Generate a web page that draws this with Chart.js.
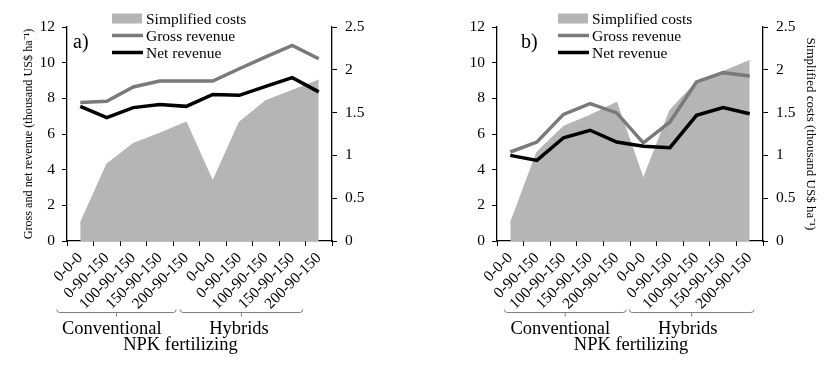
<!DOCTYPE html>
<html lang="en">
<head>
<meta charset="UTF-8" />
<title>Gross revenue, net revenue and simplified costs by NPK fertilizing</title>
<style>
  body { margin: 0; background: #fff; }
  .wrap { position: relative; width: 834px; height: 365px; }
  .wrap canvas { position: absolute; top: 0; }
  #chart-a { left: 0; }
  #chart-b { left: 417px; }
</style>
</head>
<body>
<div class="wrap">
  <canvas id="chart-a" width="417" height="365"></canvas>
  <canvas id="chart-b" width="417" height="365"></canvas>
</div>
<script src="https://cdn.jsdelivr.net/npm/chart.js@4.4.0/dist/chart.umd.min.js"></script>
<script>
  // NPK doses, five per cultivar group
  const doses = ['0-0-0', '0-90-150', '100-90-150', '150-90-150', '200-90-150',
                 '0-0-0', '0-90-150', '100-90-150', '150-90-150', '200-90-150'];
  const groups = ['Conventional', 'Hybrids'];
  const groupTitle = 'NPK fertilizing';
  const seriesNames = ['Simplified costs', 'Gross revenue', 'Net revenue'];

  // left axis ticks (thousand US$/ha) and right axis ticks
  const revenueTicks = [0, 2, 4, 6, 8, 10, 12];
  const costTicks = [0, 0.5, 1, 1.5, 2, 2.5];

  // panel a)
  const grossA = [7.76, 7.83, 8.64, 8.97, 8.97, 8.97, 9.66, 10.32, 10.97, 10.22];
  const netA = [7.55, 6.92, 7.48, 7.66, 7.55, 8.22, 8.17, 8.67, 9.16, 8.36];
  const costsA = [0.21, 0.90, 1.14, 1.26, 1.39, 0.70, 1.39, 1.64, 1.76, 1.88];

  // panel b)
  const grossB = [4.99, 5.55, 7.10, 7.70, 7.18, 5.50, 6.67, 8.92, 9.44, 9.25];
  const netB = [4.80, 4.52, 5.79, 6.21, 5.55, 5.31, 5.23, 7.05, 7.48, 7.14];
  const costsB = [0.21, 1.04, 1.34, 1.47, 1.62, 0.73, 1.53, 1.86, 1.98, 2.11];

  const SERIF = '"Liberation Serif", "Times New Roman", serif';
  Chart.defaults.font.family = SERIF;
  Chart.defaults.color = '#000';

  // panel letter, legend, group brackets and the bottom title
  const decor = {
    id: 'decor',
    afterDraw(chart) {
      const o = chart.options.plugins.decor;
      const { ctx, chartArea } = chart;
      const xs = chart.scales.x;
      ctx.save();
      ctx.fillStyle = '#000';
      ctx.textBaseline = 'middle';

      ctx.font = '20px ' + SERIF;
      ctx.textAlign = 'left';
      ctx.fillText(o.letter, chartArea.left + o.letterDx, chartArea.top + 16);

      // legend
      ctx.font = '15.5px ' + SERIF;
      const lx = chartArea.left + o.legendDx;
      chart.data.datasets.forEach((ds, i) => {
        const y = chartArea.top - 8.5 + i * 17;
        if (ds.fill) {
          ctx.fillStyle = ds.backgroundColor;
          ctx.fillRect(lx, y - 5, 30, 10);
        } else {
          ctx.strokeStyle = ds.borderColor;
          ctx.lineWidth = ds.borderWidth;
          ctx.beginPath();
          ctx.moveTo(lx, y);
          ctx.lineTo(lx + 31, y);
          ctx.stroke();
        }
        ctx.fillStyle = '#000';
        ctx.fillText(ds.label, lx + 34, y + 1);
      });

      // brackets under the tick labels
      const by = chartArea.bottom + 71.5;
      ctx.strokeStyle = '#7f7f7f';
      ctx.lineWidth = 1;
      o.brackets.forEach(b => {
        const x0 = xs.getPixelForValue(b[0]);
        const x1 = xs.getPixelForValue(b[1]);
        const mid = (x0 + x1) / 2;
        ctx.beginPath();
        ctx.moveTo(x0, by - 3);
        ctx.quadraticCurveTo(x0, by, x0 + 3, by);
        ctx.lineTo(x1 - 3, by);
        ctx.quadraticCurveTo(x1, by, x1, by - 3);
        ctx.moveTo(mid, by);
        ctx.lineTo(mid, by + 4);
        ctx.stroke();
      });

      ctx.fillStyle = '#000';
      ctx.textAlign = 'center';
      ctx.font = '18.5px ' + SERIF;
      groups.forEach((g, i) => {
        ctx.fillText(g, xs.getPixelForValue(o.groupX[i]), chartArea.bottom + 88);
      });
      ctx.fillText(groupTitle, xs.getPixelForValue(o.titleX), chartArea.bottom + 104);
      ctx.restore();
    }
  };

  function makeChart(id, gross, net, costs, panel) {
    const tickFont = { size: 15.5, family: SERIF };
    return new Chart(document.getElementById(id), {
      type: 'line',
      data: {
        labels: doses,
        datasets: [
          {
            label: seriesNames[0], data: costs, yAxisID: 'y2', fill: 'origin',
            backgroundColor: '#b5b5b5', borderColor: '#b5b5b5', borderWidth: 1,
            pointRadius: 0, tension: 0, order: 2
          },
          {
            label: seriesNames[1], data: gross, yAxisID: 'y', fill: false,
            borderColor: '#7a7a7a', borderWidth: 3.5, pointRadius: 0, tension: 0, order: 1
          },
          {
            label: seriesNames[2], data: net, yAxisID: 'y', fill: false,
            borderColor: '#000', borderWidth: 3.5, pointRadius: 0, tension: 0, order: 0
          }
        ]
      },
      options: {
        responsive: false,
        animation: false,
        devicePixelRatio: 1,
        layout: { padding: { top: 27, left: 0, right: 0, bottom: 0 } },
        plugins: {
          legend: { display: false },
          tooltip: { enabled: false },
          decor: panel
        },
        scales: {
          x: {
            offset: true,
            grid: { offset: true, drawOnChartArea: false, tickLength: 5, color: '#000' },
            border: { color: '#000', width: 1.3 },
            ticks: { font: tickFont, color: '#000', minRotation: 45, maxRotation: 45, autoSkip: false, padding: 3 },
            afterFit: s => { s.height = 124; }
          },
          y: {
            position: 'left',
            min: revenueTicks[0],
            max: revenueTicks[revenueTicks.length - 1],
            afterBuildTicks: s => { s.ticks = revenueTicks.map(v => ({ value: v })); },
            grid: { drawOnChartArea: false, tickLength: 5, color: '#000' },
            border: { color: '#000', width: 1.3 },
            ticks: { font: tickFont, color: '#000', padding: 7, callback: v => String(v) },
            title: {
              display: panel.leftTitle, text: 'Gross and net revenue (thousand US$ ha\u207B\u00B9)',
              font: { size: 12.2, family: SERIF }, color: '#000', padding: { top: 21 }
            },
            afterFit: s => { s.width = panel.leftW; }
          },
          y2: {
            position: 'right',
            min: costTicks[0],
            max: costTicks[costTicks.length - 1],
            afterBuildTicks: s => { s.ticks = costTicks.map(v => ({ value: v })); },
            grid: { drawOnChartArea: false, tickLength: 5, color: '#000' },
            border: { color: '#000', width: 1.3 },
            ticks: { font: tickFont, color: '#000', padding: 8, callback: v => String(v) },
            title: {
              display: panel.rightTitle, text: 'Simplified costs (thousand US$ ha\u207B\u00B9)',
              font: { size: 13, family: SERIF }, color: '#000', padding: { top: 16 }
            },
            afterFit: s => { s.width = panel.rightW; }
          }
        }
      },
      plugins: [decor]
    });
  }

  makeChart('chart-a', grossA, netA, costsA, {
    letter: 'a)', letterDx: 6, legendDx: 45,
    brackets: [[-0.887, 3.62], [3.766, 8.4]], groupX: [1.19, 5.99], titleX: 3.78,
    leftTitle: true, rightTitle: false, leftW: 67, rightW: 85
  });

  makeChart('chart-b', grossB, netB, costsB, {
    letter: 'b)', letterDx: 24, legendDx: 61,
    brackets: [[-0.225, 4.357], [4.474, 9.16]], groupX: [1.88, 6.67], titleX: 4.54,
    leftTitle: false, rightTitle: true, leftW: 80, rightW: 71
  });
</script>
</body>
</html>
